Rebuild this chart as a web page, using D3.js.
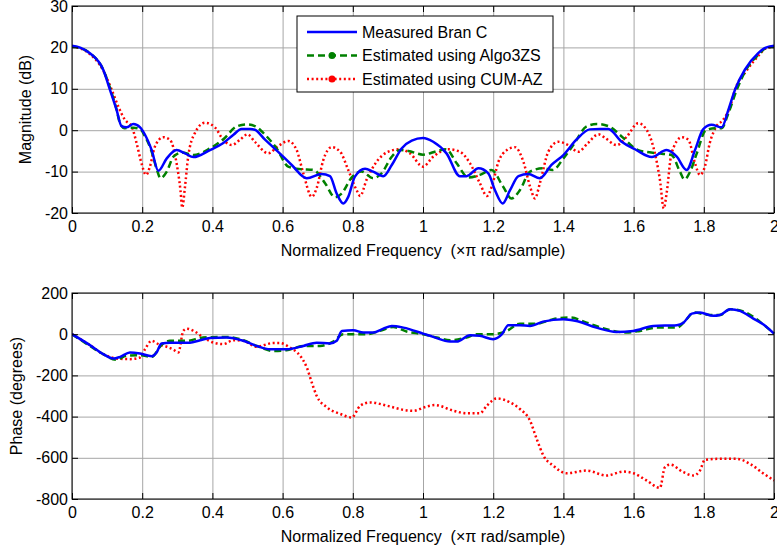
<!DOCTYPE html>
<html>
<head>
<meta charset="utf-8">
<script src="https://cdn.jsdelivr.net/npm/d3@7"></script>
<style>
  body { margin: 0; background: #fff; }
  svg { display: block; font-family: "Liberation Sans", Arial, sans-serif; }
  .tick text { font-size: 16px; fill: #000; }
  .grid line { stroke: #a6a6a6; stroke-width: 1; }
  .grid path { display: none; }
  .xlabel { white-space: pre; }
</style>
</head>
<body>
<div id="chart"></div>
<script>
// values: [normalized frequency, value]
const magMeasured = [[0,20.4],[0.025,19.9],[0.051,18.6],[0.089,14.6],[0.108,9.8],[0.127,4.9],[0.141,1.0],[0.155,0.7],[0.175,1.5],[0.194,0.7],[0.208,-1.1],[0.227,-4.8],[0.246,-9.8],[0.27,-6.8],[0.298,-4.8],[0.322,-5.6],[0.346,-6.5],[0.393,-4.8],[0.431,-3.1],[0.46,-1.1],[0.483,0.3],[0.507,0.3],[0.521,0.1],[0.55,-2.3],[0.597,-6.0],[0.626,-8.4],[0.669,-11.6],[0.711,-10.6],[0.735,-11.1],[0.754,-15.3],[0.773,-17.7],[0.787,-16.1],[0.806,-11.2],[0.835,-9.3],[0.858,-10.0],[0.887,-11.1],[0.911,-8.4],[0.939,-4.4],[0.968,-2.5],[1.0,-1.9],[1.029,-2.8],[1.067,-5.6],[1.105,-11.1],[1.124,-11.1],[1.158,-9.2],[1.186,-10.4],[1.205,-14.5],[1.227,-17.7],[1.248,-14.5],[1.272,-11.1],[1.3,-10.6],[1.333,-11.6],[1.366,-8.4],[1.4,-6.0],[1.437,-2.3],[1.475,0.2],[1.504,0.3],[1.528,0.3],[1.566,-2.8],[1.604,-4.6],[1.652,-6.5],[1.694,-4.8],[1.723,-6.4],[1.751,-9.6],[1.775,-4.8],[1.798,0.2],[1.822,1.3],[1.851,0.7],[1.87,4.9],[1.889,9.8],[1.917,14.6],[1.955,18.6],[1.975,19.9],[2,20.4]];
const magAlgo3zs = [[0,20.2],[0.025,19.8],[0.051,18.6],[0.089,14.6],[0.11,9.8],[0.127,5.0],[0.137,1.6],[0.15,0.5],[0.175,0.6],[0.194,0.3],[0.208,-1.5],[0.227,-5.2],[0.242,-9.6],[0.252,-11.6],[0.27,-10.0],[0.289,-6.4],[0.313,-5.4],[0.346,-6.0],[0.393,-4.4],[0.431,-2.2],[0.469,0.9],[0.497,1.4],[0.521,1.0],[0.55,-1.1],[0.583,-4.4],[0.616,-8.8],[0.65,-9.4],[0.688,-9.6],[0.721,-12.8],[0.749,-16.2],[0.768,-15.3],[0.797,-11.4],[0.825,-10.0],[0.858,-11.6],[0.882,-10.4],[0.911,-6.4],[0.934,-4.8],[0.958,-5.0],[1.0,-5.9],[1.042,-5.0],[1.066,-4.6],[1.096,-8.0],[1.129,-11.4],[1.162,-10.8],[1.195,-9.6],[1.228,-13.6],[1.252,-16.5],[1.276,-14.5],[1.305,-10.0],[1.342,-9.2],[1.37,-9.6],[1.4,-6.8],[1.428,-3.6],[1.466,0.9],[1.495,1.5],[1.528,1.0],[1.566,-1.5],[1.613,-4.8],[1.67,-5.6],[1.708,-6.0],[1.732,-10.0],[1.745,-11.9],[1.761,-10.0],[1.78,-5.6],[1.805,-0.1],[1.832,0.5],[1.851,0.5],[1.87,4.1],[1.894,9.8],[1.922,14.8],[1.96,18.6],[1.975,19.8],[2,20.2]];
const magCumAz = [[0,20.2],[0.025,19.7],[0.051,18.4],[0.089,14.4],[0.113,9.8],[0.132,5.7],[0.151,2.5],[0.17,0.9],[0.184,-3.1],[0.198,-8.0],[0.211,-10.8],[0.222,-8.8],[0.236,-4.0],[0.26,-1.7],[0.279,-2.3],[0.298,-8.0],[0.309,-14.5],[0.314,-18.7],[0.322,-13.6],[0.331,-6.4],[0.35,-0.7],[0.379,1.8],[0.407,0.7],[0.431,-2.3],[0.455,-3.6],[0.479,-2.3],[0.5,-1.0],[0.521,-2.8],[0.559,-5.6],[0.588,-3.8],[0.616,-2.6],[0.64,-4.8],[0.659,-10.4],[0.683,-16.1],[0.697,-14.0],[0.716,-7.2],[0.74,-4.1],[0.764,-5.2],[0.787,-9.6],[0.811,-14.5],[0.821,-15.9],[0.839,-12.0],[0.868,-7.6],[0.901,-5.2],[0.934,-4.6],[0.963,-5.6],[1.0,-8.8],[1.029,-6.4],[1.072,-4.6],[1.105,-5.2],[1.134,-8.0],[1.162,-12.8],[1.182,-15.9],[1.196,-13.6],[1.215,-7.6],[1.239,-4.8],[1.262,-4.1],[1.286,-7.6],[1.305,-13.6],[1.319,-16.5],[1.333,-12.8],[1.357,-5.2],[1.385,-2.8],[1.414,-3.6],[1.442,-5.2],[1.47,-3.1],[1.5,-1.0],[1.519,-1.9],[1.552,-3.6],[1.581,-1.5],[1.613,1.7],[1.632,0.7],[1.656,-4.0],[1.675,-12.0],[1.686,-18.9],[1.694,-15.3],[1.708,-5.6],[1.737,-1.7],[1.756,-2.3],[1.775,-8.0],[1.789,-10.8],[1.803,-8.8],[1.817,-3.1],[1.836,0.9],[1.855,2.5],[1.875,5.7],[1.889,9.8],[1.922,14.4],[1.96,18.4],[1.975,19.7],[2,20.2]];

const phaseMeasured = [[0,0],[0.051,-53],[0.089,-97],[0.118,-118],[0.137,-110],[0.165,-89],[0.194,-94],[0.227,-107],[0.241,-89],[0.255,-45],[0.279,-41],[0.336,-41],[0.365,-29],[0.393,-19],[0.44,-16],[0.488,-32],[0.526,-57],[0.564,-73],[0.611,-73],[0.659,-57],[0.697,-41],[0.735,-45],[0.754,-32],[0.769,16],[0.801,19],[0.83,8],[0.858,8],[0.887,27],[0.911,40],[0.944,32],[1.0,3],[1.029,-13],[1.077,-36],[1.096,-36],[1.134,-5],[1.162,-8],[1.2,-24],[1.225,0],[1.243,44],[1.276,44],[1.305,40],[1.342,61],[1.4,73],[1.437,64],[1.494,32],[1.551,11],[1.599,16],[1.656,40],[1.723,44],[1.742,56],[1.766,100],[1.789,105],[1.827,89],[1.846,93],[1.875,121],[1.903,113],[1.94,77],[1.969,48],[2,3]];
const phaseAlgo3zs = [[0,0],[0.051,-57],[0.089,-97],[0.125,-124],[0.155,-105],[0.194,-102],[0.227,-110],[0.255,-52],[0.279,-32],[0.327,-32],[0.374,-16],[0.44,-13],[0.488,-29],[0.526,-57],[0.573,-81],[0.611,-78],[0.659,-57],[0.707,-57],[0.744,-36],[0.773,0],[0.801,0],[0.839,0],[0.877,16],[0.915,35],[0.953,13],[1.0,0],[1.039,-16],[1.077,-29],[1.124,-16],[1.153,0],[1.2,0],[1.239,16],[1.276,51],[1.324,51],[1.371,73],[1.419,81],[1.466,56],[1.523,24],[1.58,8],[1.618,16],[1.666,32],[1.723,32],[1.751,73],[1.77,105],[1.818,93],[1.846,93],[1.875,121],[1.913,110],[1.969,48],[2,3]];
const phaseCumAz = [[0,0],[0.051,-53],[0.089,-97],[0.127,-118],[0.165,-121],[0.194,-113],[0.208,-73],[0.227,-32],[0.246,-48],[0.27,-61],[0.289,-75],[0.303,-89],[0.317,16],[0.327,27],[0.35,13],[0.374,-16],[0.403,-41],[0.431,-48],[0.46,-29],[0.488,-32],[0.526,-61],[0.573,-43],[0.592,-43],[0.621,-65],[0.65,-105],[0.669,-162],[0.683,-234],[0.697,-299],[0.726,-355],[0.764,-387],[0.797,-404],[0.821,-347],[0.849,-331],[0.897,-347],[0.944,-367],[0.973,-372],[1.004,-355],[1.034,-344],[1.086,-371],[1.124,-384],[1.162,-384],[1.182,-347],[1.21,-312],[1.248,-331],[1.276,-363],[1.305,-420],[1.324,-509],[1.343,-589],[1.371,-638],[1.409,-675],[1.466,-662],[1.523,-686],[1.571,-667],[1.6,-675],[1.637,-710],[1.675,-746],[1.689,-646],[1.704,-633],[1.742,-670],[1.771,-686],[1.789,-662],[1.803,-610],[1.846,-605],[1.894,-605],[1.932,-630],[1.969,-675],[2,-710]];

const freqTicks = [0, 0.2, 0.4, 0.6, 0.8, 1, 1.2, 1.4, 1.6, 1.8, 2];
const magTicks = [-20, -10, 0, 10, 20, 30];
const phaseTicks = [-800, -600, -400, -200, 0, 200];
const legendNames = ["Measured Bran C", "Estimated using Algo3ZS", "Estimated using CUM-AZ"];

const W = 777, H = 550;
const left = 72, right = 774;

const styles = [
    { color: "#0000ff", dash: null, marker: false },
    { color: "#008000", dash: "7,4", marker: true },
    { color: "#ff0000", dash: "2,2.6", marker: true }
];

const svg = d3.select("#chart").append("svg")
    .attr("width", W)
    .attr("height", H);

function drawPanel(top, bottom, yDomain, yTicks, yLabel, yLabelX, series) {
    const x = d3.scaleLinear().domain([0, 2]).range([left, right]);
    const y = d3.scaleLinear().domain(yDomain).range([bottom, top]);
    const g = svg.append("g");
    const fmt = d => String(d);

    // grid
    g.append("g").attr("class", "grid")
        .attr("transform", "translate(0," + bottom + ")")
        .call(d3.axisBottom(x).tickValues(freqTicks).tickSize(-(bottom - top)).tickFormat(""));
    g.append("g").attr("class", "grid")
        .attr("transform", "translate(" + left + ",0)")
        .call(d3.axisLeft(y).tickValues(yTicks).tickSize(-(right - left)).tickFormat(""));

    const clipId = "clip" + top;
    svg.append("clipPath").attr("id", clipId)
        .append("rect").attr("x", left).attr("y", top - 2).attr("width", right - left + 2).attr("height", bottom - top + 4);

    const line = d3.line()
        .x(d => x(d[0]))
        .y(d => y(d[1]))
        .curve(d3.curveMonotoneX);

    const linesG = g.append("g").attr("clip-path", "url(#" + clipId + ")");
    // red first, blue on top
    [2, 1, 0].forEach(i => {
        linesG.append("path")
            .datum(series[i])
            .attr("fill", "none")
            .attr("stroke", styles[i].color)
            .attr("stroke-width", 2.5)
            .attr("stroke-dasharray", styles[i].dash)
            .attr("d", line);
    });

    // axes with inward ticks on all four sides
    g.append("g")
        .attr("transform", "translate(0," + bottom + ")")
        .call(d3.axisBottom(x).tickValues(freqTicks).tickSize(-6).tickPadding(8).tickFormat(fmt))
        .call(a => a.select(".domain").remove());
    g.append("g")
        .attr("transform", "translate(0," + top + ")")
        .call(d3.axisTop(x).tickValues(freqTicks).tickSize(-6).tickFormat(""))
        .call(a => a.select(".domain").remove());
    g.append("g")
        .attr("transform", "translate(" + left + ",0)")
        .call(d3.axisLeft(y).tickValues(yTicks).tickSize(-6).tickPadding(4).tickFormat(fmt))
        .call(a => a.select(".domain").remove());
    g.append("g")
        .attr("transform", "translate(" + right + ",0)")
        .call(d3.axisRight(y).tickValues(yTicks).tickSize(-6).tickFormat(""))
        .call(a => a.select(".domain").remove());

    g.append("rect")
        .attr("x", left).attr("y", top)
        .attr("width", right - left).attr("height", bottom - top)
        .attr("fill", "none").attr("stroke", "#000").attr("stroke-width", 1);

    g.append("text")
        .attr("transform", "translate(" + yLabelX + "," + ((top + bottom) / 2) + ") rotate(-90)")
        .attr("text-anchor", "middle")
        .attr("font-size", 16)
        .text(yLabel);

    g.append("text")
        .attr("class", "xlabel")
        .attr("x", (left + right) / 2)
        .attr("y", bottom + 43)
        .attr("text-anchor", "middle")
        .attr("font-size", 16)
        .text("Normalized Frequency  (\u00d7\u03c0 rad/sample)");
}

drawPanel(6, 213, [-20, 30], magTicks, "Magnitude (dB)", 31,
    [magMeasured, magAlgo3zs, magCumAz]);
drawPanel(293, 499, [-800, 200], phaseTicks, "Phase (degrees)", 22,
    [phaseMeasured, phaseAlgo3zs, phaseCumAz]);

// legend
const legend = svg.append("g");
legend.append("rect")
    .attr("x", 297).attr("y", 16).attr("width", 256).attr("height", 76)
    .attr("fill", "#fff").attr("stroke", "#000").attr("stroke-width", 1);
legendNames.forEach((name, i) => {
    const ly = 32 + i * 23.5;
    legend.append("line")
        .attr("x1", 307).attr("x2", 357).attr("y1", ly).attr("y2", ly)
        .attr("stroke", styles[i].color).attr("stroke-width", 2.5)
        .attr("stroke-dasharray", styles[i].dash);
    if (styles[i].marker) {
        legend.append("circle")
            .attr("cx", 332).attr("cy", ly).attr("r", 3.5)
            .attr("fill", styles[i].color);
    }
    legend.append("text")
        .attr("x", 362).attr("y", ly).attr("dy", "0.35em")
        .attr("font-size", 16)
        .text(name);
});
</script>
</body>
</html>
